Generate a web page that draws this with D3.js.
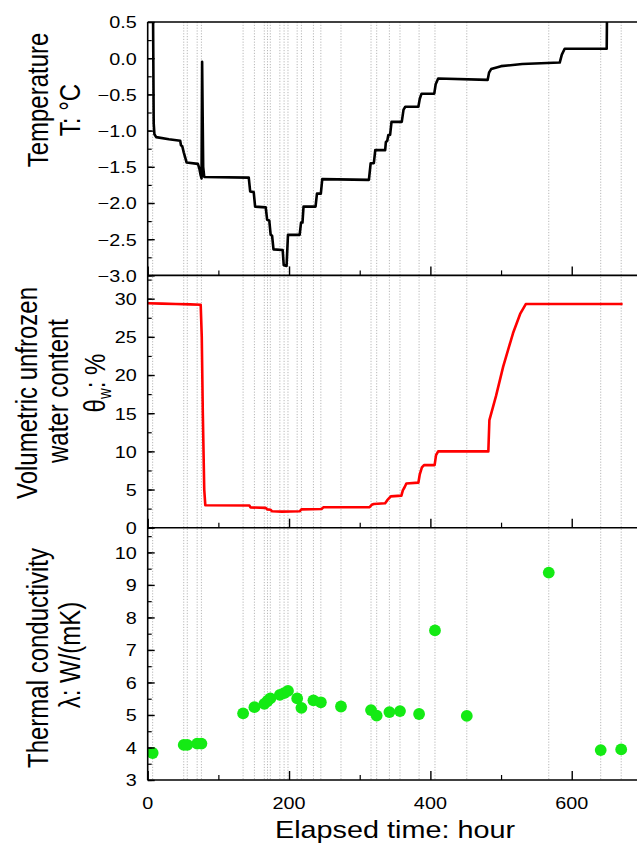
<!DOCTYPE html>
<html><head><meta charset="utf-8">
<script src="https://cdn.jsdelivr.net/npm/d3@7"></script>
<style>
html,body{margin:0;padding:0;background:#fff;}
svg{display:block;}
text{font-family:"Liberation Sans",Arial,sans-serif;fill:#000;}
</style></head>
<body><svg id="c" width="637" height="847"></svg>
<script>
// ---- data ----
const tempTime = [7.5,8.5,9.5,12,30,46,47,49,51,53,55,71,73,75,76.2,77,78.5,80,143,145,150,152,167,169,172,174,176,178,191,192.5,196.5,198.5,215,217,219,220.5,237.5,239.5,245,247,313,315.5,320,322,336,337,339,340.5,343,345,359.5,362,364.5,383,385,387.5,405.5,407.5,411,481,483,486,500,530,583,586,590,649.5,650];
const tempValue = [0.7,-0.9,-1.05,-1.09,-1.12,-1.14,-1.2,-1.22,-1.3,-1.37,-1.44,-1.46,-1.52,-1.62,-1.66,-0.05,-1.5,-1.64,-1.65,-1.84,-1.85,-2.05,-2.06,-2.23,-2.24,-2.44,-2.45,-2.64,-2.65,-2.86,-2.87,-2.44,-2.44,-2.27,-2.27,-2.05,-2.05,-1.87,-1.87,-1.67,-1.68,-1.45,-1.45,-1.27,-1.27,-1.16,-1.14,-1.06,-1.06,-0.88,-0.88,-0.71,-0.67,-0.67,-0.56,-0.49,-0.49,-0.36,-0.28,-0.3,-0.2,-0.15,-0.11,-0.08,-0.06,0.05,0.13,0.13,0.7];

const waterTime = [0,20,40,60,75,76.5,78,80,81.5,144,145.5,167,169,174,176,190,215,217.5,246,248.5,314,317,320,336,339,344,359,361,363.5,366,383,385,388,391,406,408,411,482,483.5,493,503,517,527,535,672];
const waterValue = [29.4,29.35,29.3,29.25,29.2,25,15,5,2.95,2.9,2.65,2.6,2.4,2.35,2.15,2.1,2.15,2.4,2.45,2.67,2.7,3.0,3.1,3.2,3.6,4.1,4.2,4.9,5.3,5.8,5.9,7.0,7.9,8.2,8.2,9.5,10.0,10.0,14.1,17.3,21.1,25.5,28.0,29.3,29.3];

const condTime = [7,51,56,70,76,135,151,165,169.5,173.5,187,193,198.5,211.5,217.5,234.5,245,273.5,316,324,342,357,384,406.5,451.5,567.5,641,670];
const condValue = [3.83,4.08,4.08,4.12,4.12,5.05,5.24,5.34,5.43,5.51,5.62,5.67,5.74,5.51,5.22,5.45,5.39,5.26,5.15,4.98,5.09,5.12,5.03,7.6,4.97,9.38,3.92,3.94];

const tempTicks = [0.5,0.0,-0.5,-1.0,-1.5,-2.0,-2.5,-3.0];
const waterTicks = [0,5,10,15,20,25,30];
const condTicks = [3,4,5,6,7,8,9,10];
const timeTicks = [0,200,400,600];

(function(){
const svg = d3.select("#c");
const x = d3.scaleLinear().domain([0,700]).range([147.7,642.4]);
const yT = d3.scaleLinear().domain([-3,0.5]).range([275.4,22]);
const yW = d3.scaleLinear().domain([0,33.05]).range([527.7,275.4]);
const yK = d3.scaleLinear().domain([3,10.76]).range([780,527.7]);
const panels = [
  {y:yT, ticks:tempTicks, minor:d3.range(-3,0.51,0.25), fmt:d3.format(".1f")},
  {y:yW, ticks:waterTicks, minor:d3.range(0,33,2.5), fmt:d3.format("d")},
  {y:yK, ticks:condTicks, minor:d3.range(3,10.76,0.5), fmt:d3.format("d")}
];
const pL = x(0), pR = x(700), pT = 22, pB = 780;

const defs = svg.append("defs");
panels.forEach((p,i)=>{
  const r = p.y.range();
  defs.append("clipPath").attr("id","clip"+i).append("rect")
    .attr("x",pL).attr("y",r[1]).attr("width",pR-pL).attr("height",r[0]-r[1]);
});

svg.append("g").selectAll("line").data(condTime).join("line")
  .attr("x1",d=>x(d)).attr("x2",d=>x(d)).attr("y1",pT).attr("y2",pB)
  .attr("stroke","#b0b0b0").attr("stroke-width",0.9).attr("stroke-dasharray","1.2,1.6");

const tempData = tempTime.map((t,i)=>[t,tempValue[i]]);
svg.append("path").datum(tempData).attr("clip-path","url(#clip0)")
  .attr("fill","none").attr("stroke","#000").attr("stroke-width",2.6).attr("stroke-linejoin","round")
  .attr("d",d3.line().x(d=>x(d[0])).y(d=>yT(d[1])));

const waterData = waterTime.map((t,i)=>[t,waterValue[i]]);
svg.append("path").datum(waterData).attr("clip-path","url(#clip1)")
  .attr("fill","none").attr("stroke","#ff0000").attr("stroke-width",2.6).attr("stroke-linejoin","round")
  .attr("d",d3.line().x(d=>x(d[0])).y(d=>yW(d[1])));

svg.append("g").attr("clip-path","url(#clip2)").selectAll("circle")
  .data(condTime.map((t,i)=>[t,condValue[i]])).join("circle")
  .attr("cx",d=>x(d[0])).attr("cy",d=>yK(d[1])).attr("r",5.9).attr("fill","#14ea14");

panels.forEach((p,i)=>{
  const gMaj = svg.append("g").attr("transform",`translate(${pL},0)`)
    .call(d3.axisLeft(p.y).tickValues(p.ticks).tickSize(-7).tickSizeOuter(0).tickPadding(11).tickFormat(p.fmt));
  gMaj.select(".domain").remove();
  gMaj.selectAll("line").attr("stroke","#000").attr("stroke-width",1.4);
  gMaj.selectAll("text").attr("x",0).attr("dy","0.36em")
    .attr("transform","translate(-11,0) scale(1.2,1)")
    .style("font-size","16.5px").style("font-family","'Liberation Sans',Arial,sans-serif");
  const gMin = svg.append("g").attr("transform",`translate(${pL},0)`)
    .call(d3.axisLeft(p.y).tickValues(p.minor).tickSize(-4).tickSizeOuter(0).tickFormat(""));
  gMin.select(".domain").remove();
  gMin.selectAll("line").attr("stroke","#000").attr("stroke-width",1.2);
  const yb = p.y.range()[0];
  const gx = svg.append("g").attr("transform",`translate(0,${yb})`)
    .call(d3.axisBottom(x).tickValues(timeTicks).tickSize(-9).tickSizeOuter(0).tickFormat(""));
  gx.select(".domain").remove();
  gx.selectAll("line").attr("stroke","#000").attr("stroke-width",1.4);
  const gxm = svg.append("g").attr("transform",`translate(0,${yb})`)
    .call(d3.axisBottom(x).tickValues([100,300,500,700]).tickSize(-5).tickSizeOuter(0).tickFormat(""));
  gxm.select(".domain").remove();
  gxm.selectAll("line").attr("stroke","#000").attr("stroke-width",1.2);
});

svg.append("g").selectAll("text").data(timeTicks).join("text")
  .attr("transform",d=>`translate(${x(d)},808.5) scale(1.2,1)`)
  .attr("text-anchor","middle").style("font-size","16.5px").text(d=>d);

const fr = svg.append("g").attr("stroke","#000").attr("stroke-width",1.6);
fr.append("line").attr("x1",pL).attr("x2",pL).attr("y1",pT).attr("y2",pB);
fr.append("line").attr("x1",pR).attr("x2",pR).attr("y1",pT).attr("y2",pB);
[pT, yT.range()[0], yW.range()[0], pB].forEach(yy=>{
  fr.append("line").attr("x1",pL).attr("x2",pR).attr("y1",yy).attr("y2",yy);
});

function vtitle(cx, cy, parts){
  const t = svg.append("text").attr("transform",`translate(${cx},${cy}) rotate(-90) scale(1,1.2)`)
    .attr("text-anchor","middle").attr("dominant-baseline","central").style("font-size","24px");
  parts.forEach(p=>{
    const s = t.append("tspan").text(p.t);
    if(p.sub) s.attr("baseline-shift","sub").style("font-size","15px");
  });
}
vtitle(38,100,[{t:"Temperature"}]);
vtitle(70,110,[{t:"T: °C"}]);
vtitle(27,393,[{t:"Volumetric unfrozen"}]);
vtitle(58,391,[{t:"water content"}]);
vtitle(95,383,[{t:"θ"},{t:"w",sub:true},{t:": %"}]);
vtitle(38,658,[{t:"Thermal conductivity"}]);
vtitle(70,655,[{t:"λ: W/(mK)"}]);

svg.append("text").attr("transform","translate(395,838) scale(1.2,1)")
  .attr("text-anchor","middle").style("font-size","24px").text("Elapsed time: hour");
})();
</script></body></html>
